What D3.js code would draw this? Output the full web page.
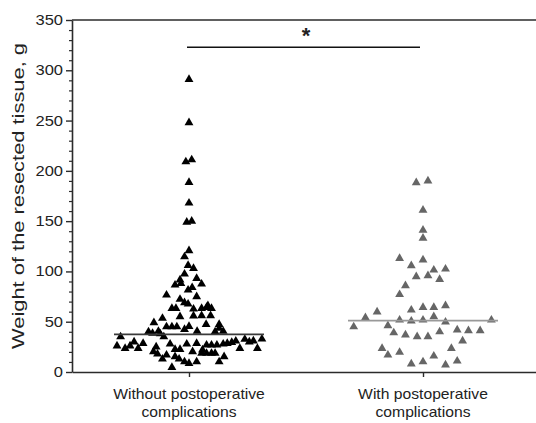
<!DOCTYPE html>
<html>
<head>
<meta charset="utf-8">
<script src="https://cdn.jsdelivr.net/npm/d3@7"></script>
<style>
  body { margin: 0; background: #fff; }
  text { font-family: Arial, "Liberation Sans", sans-serif; fill: #222; }
</style>
</head>
<body>
<div id="canvas"></div>
<script>
'use strict';

/* Data. Offsets are horizontal spread of the dots. */
const categories = ['Without postoperative\ncomplications',
  'With postoperative\ncomplications'];

const withoutValues = [291, 248, 209, 211, 188.5, 168, 149, 150, 120.6, 114.6,
  106, 103, 97.4, 93, 91.5, 86.5, 87.5, 84, 81.5, 76.5,
  75, 72.3, 69, 67.6, 63.3, 63.3, 62.6, 63.3, 64.3, 63.3,
  55, 55.7, 56, 56, 53.4, 49, 47.4, 47.4, 45, 45,
  45, 45.3, 42.4, 40, 38.5, 40.5, 38, 40.5, 40, 40.5,
  35, 35, 26, 23.5, 26, 30, 23.5, 28.5, 25, 27.8,
  22.5, 22.5, 27.8, 20.2, 28.5, 21.9, 26.8, 26.8, 26.8, 27.8,
  28.5, 29.5, 30.8, 23.5, 32.5, 30, 31, 23.5, 32.8, 20.2,
  17.9, 12.9, 16.9, 15.2, 12.9, 10.2, 8.6, 10.2, 18.6, 18.6,
  18.6, 18.6, 10.2, 15.2, 4.6, 43.5, 88, 66];
const withoutOffsets = [0, 0, -0.7, 0.6, 0, 0, -0.5, 0.6, 0, -1,
  -0.2, 1, -1, 1.7, -2, -3.1, 2.8, 0.7, -0.2, -5,
  1.7, -2, -1, -0.2, -3.8, -2.9, 1, 2.8, 3.9, 5,
  -2, 1, 2.8, 4.8, -5.9, -7.8, 3.8, 6.7, -5, -3.8,
  -2.7, 0, -1, -9, -8.1, -6.8, -6.4, 1.8, 5.8, 7.6,
  -15.2, -5.6, -16, -14.2, -13.1, -12.2, -11.3, -10.2, -7.3, -4.2,
  -3.1, -2, -0.5, 0.8, 1.7, 3, 3.9, 5, 6.2, 7.6,
  8.5, 9.5, 10.4, 11.3, 12.4, 13.4, 14.3, 15.2, 16.2, -7.9,
  -7, -5.9, -5, -3.1, -2.2, -1, 0, 1.7, 2.8, 3.9,
  5, 5.8, 6.7, 7.8, -3.8, 6.7, -1.8, 4.2];

const withValues = [188.2, 190, 161, 141, 133, 113, 111.4, 105.7, 101.4, 102.4,
  94.8, 95.8, 92, 85.8, 77, 61.6, 64.3, 64.3, 65.9, 59.7,
  54, 51.7, 50.7, 51.7, 55, 49.7, 51.7, 45, 46, 39,
  36.8, 35.1, 35.1, 40, 41.8, 41.1, 41.1, 31, 23.5, 16.9,
  19.6, 23.5, 15.9, 10.2, 8, 7, 10.9];
const withOffsets = [-1.5, 1.1, 0, 0, 0, -5.2, 0, -2.6, 2.4, 5,
  -1.5, 1.1, 3.7, -3.9, -5.2, -2.6, 0, 2.4, 5, -10.2,
  -12.8, -5.2, -2.6, 0, 2.4, 5, 15.2, -15.4, -7.8, -6.5,
  -3.9, -1.3, 1.1, 3.7, 7.6, 10.1, 12.7, 8.8, -9.1, -7.8,
  -5.2, 6.3, 2.4, 0, -2.6, 5, 7.6];

const medians = [37.5, 51];
const yTicks = [0, 50, 100, 150, 200, 250, 300, 350];
const significanceLevel = 323;

/* Chart setup */
const width = 536;
const height = 423;
const margins = {top: 20, left: 72, bottom: 51};

const svg = d3.select('#canvas').append('svg')
    .attr('width', width)
    .attr('height', height);

const x = d3.scalePoint()
    .domain(categories)
    .range([margins.left, 540])
    .padding(0.5);

const y = d3.scaleLinear()
    .domain([0, 350])
    .range([height - margins.bottom, margins.top]);

/* horizontal spread, units -> pixels */
const spread = d3.scaleLinear().domain([0, 1]).range([0, 4.5]);

const axisColor = '#2b2b2b';

/* top border line */
svg.append('line')
    .attr('x1', margins.left).attr('x2', width)
    .attr('y1', y(350)).attr('y2', y(350))
    .attr('stroke', axisColor).attr('stroke-width', 1.6);

/* y axis: minor ticks then major */
const minorAxis = svg.append('g')
    .attr('transform', `translate(${margins.left},0)`)
    .call(d3.axisLeft(y)
        .tickValues(d3.range(0, 351, 10).filter((v) => v % 50 !== 0))
        .tickSize(3)
        .tickFormat(''));
minorAxis.select('.domain').remove();
minorAxis.selectAll('line').attr('stroke', axisColor).attr('stroke-width', 1.2);

const yAxis = svg.append('g')
    .attr('transform', `translate(${margins.left},0)`)
    .call(d3.axisLeft(y).tickValues(yTicks).tickSize(6).tickSizeOuter(0)
        .tickPadding(3));
yAxis.select('.domain').attr('stroke', axisColor).attr('stroke-width', 1.6);
yAxis.selectAll('line').attr('stroke', axisColor).attr('stroke-width', 1.4);
yAxis.selectAll('text')
    .style('font-size', '14px')
    .attr('fill', '#222')
    .attr('transform', 'scale(1.18,1)')
    .attr('x', -9 / 1.18);

/* x axis */
const xAxis = svg.append('g')
    .attr('transform', `translate(0,${y(0)})`)
    .call(d3.axisBottom(x).tickSize(5).tickSizeOuter(0).tickFormat(''));
xAxis.select('.domain').attr('stroke', axisColor).attr('stroke-width', 1.6);
xAxis.selectAll('line').attr('stroke', axisColor).attr('stroke-width', 1.4);

categories.forEach((cat) => {
  const label = svg.append('text')
      .attr('transform', `translate(${x(cat)},399) scale(1.12,1)`)
      .attr('text-anchor', 'middle')
      .style('font-size', '14px');
  cat.split('\n').forEach((line, i) => {
    label.append('tspan')
        .attr('x', 0)
        .attr('dy', i === 0 ? 0 : 18)
        .text(line);
  });
});

/* y axis title */
svg.append('text')
    .attr('transform', `translate(24,${(y(0) + y(350)) / 2}) rotate(-90)`)
    .attr('text-anchor', 'middle')
    .attr('textLength', 306)
    .attr('lengthAdjust', 'spacingAndGlyphs')
    .style('font-size', '16px')
    .text('Weight of the resected tissue, g');

/* points */
const triangle = d3.symbol().type(d3.symbolTriangle).size(34);
const groups = [
  {values: withoutValues, offsets: withoutOffsets, color: '#000',
    line: '#3a3a3a'},
  {values: withValues, offsets: withOffsets, color: '#666',
    line: '#999'},
];

groups.forEach((g, gi) => {
  const cx = x(categories[gi]);
  const pts = g.values.map((v, i) => ({v, o: g.offsets[i]}));
  svg.append('g').selectAll('path')
      .data(pts)
      .join('path')
      .attr('d', triangle)
      .attr('transform', (d) => `translate(${cx + spread(d.o)},${y(d.v)})`)
      .attr('fill', g.color);

  svg.append('line')
      .attr('x1', cx - 75).attr('x2', cx + 75)
      .attr('y1', y(medians[gi])).attr('y2', y(medians[gi]))
      .attr('stroke', g.line).attr('stroke-width', 1.8);
});

/* significance bar */
svg.append('line')
    .attr('x1', x(categories[0]) - 2).attr('x2', x(categories[1]) - 3)
    .attr('y1', y(significanceLevel)).attr('y2', y(significanceLevel))
    .attr('stroke', '#111').attr('stroke-width', 1.5);

svg.append('text')
    .attr('x', (x(categories[0]) + x(categories[1])) / 2)
    .attr('y', y(significanceLevel) - 4)
    .attr('text-anchor', 'middle')
    .style('font-size', '22px')
    .style('font-weight', 'bold')
    .text('*');
</script>
</body>
</html>
